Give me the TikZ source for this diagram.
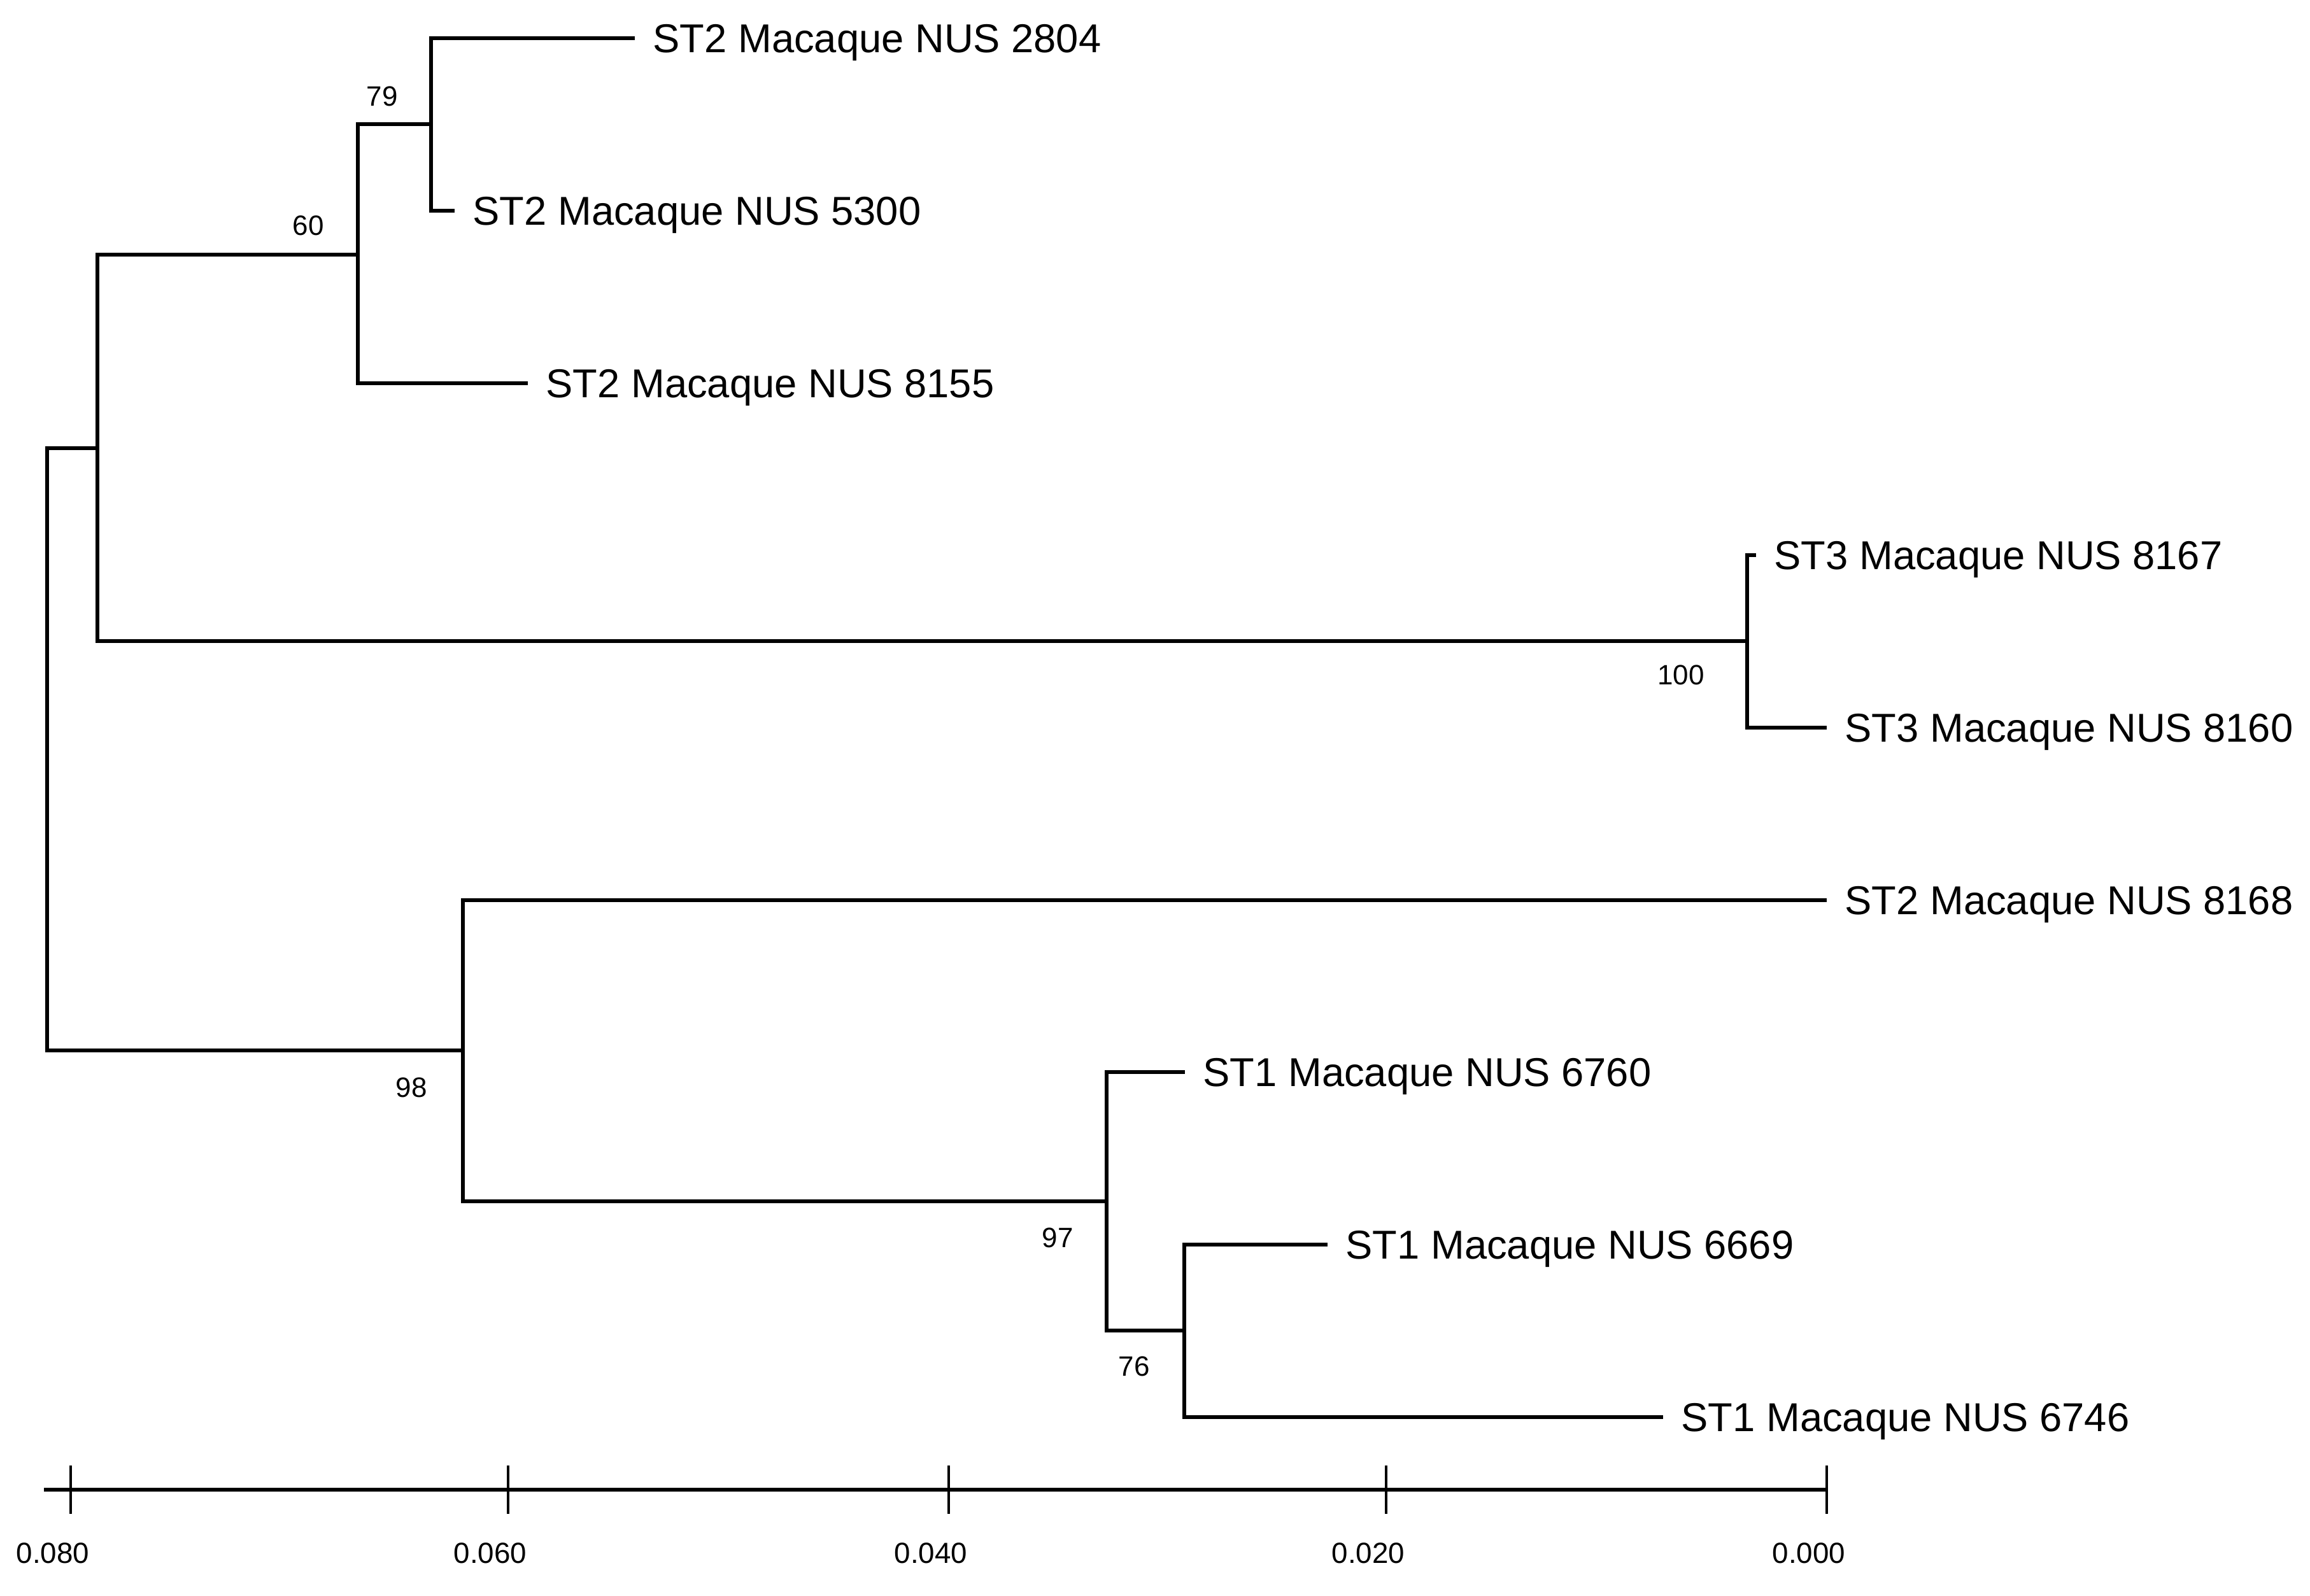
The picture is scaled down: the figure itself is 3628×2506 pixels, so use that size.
\documentclass[tikz,border=0pt]{standalone}
\usepackage{fontspec}
\setmainfont{Liberation Sans}
\begin{document}
\begin{tikzpicture}[x=0.01cm,y=-0.01cm,
    ramo/.style={line width=1.5pt},
    foglia/.style={anchor=base west,inner sep=0pt,xshift=0.28cm,yshift=-0.22cm,font=\fontsize{18}{20}\selectfont},
    boot/.style={inner sep=0pt,font=\fontsize{12.5}{14}\selectfont},
    asse/.style={line width=1.9pt},
    tacca/.style={line width=1.1pt},
    valore/.style={inner sep=0pt,font=\fontsize{13}{15}\selectfont}]
  \useasboundingbox (0,0) rectangle (3628,2506);
  %nodi interni
  \coordinate (radice) at (74,1177);
  \coordinate (nA) at (153,704);
  \coordinate (n60) at (562,400);
  \coordinate (n79) at (677,195);
  \coordinate (nST3) at (2744,1007);
  \coordinate (nB) at (727,1650);
  \coordinate (n97) at (1738,1887);
  \coordinate (n76) at (1860,2090);
  %foglie
  \coordinate (e2804) at (997,60);
  \coordinate (e5300) at (714,331);
  \coordinate (e8155) at (829,602);
  \coordinate (e8167) at (2758,872);
  \coordinate (e8160) at (2869,1143);
  \coordinate (e8168) at (2869,1414);
  \coordinate (e6760) at (1861,1684);
  \coordinate (e6669) at (2085,1955);
  \coordinate (e6746) at (2612,2226);
  %rami
  \draw[ramo] (radice) |- (nA);
  \draw[ramo] (radice) |- (nB);
  \draw[ramo] (nA) |- (n60);
  \draw[ramo] (nA) |- (nST3);
  \draw[ramo] (n60) |- (n79);
  \draw[ramo] (n60) |- (e8155);
  \draw[ramo] (n79) |- (e2804);
  \draw[ramo] (n79) |- (e5300);
  \draw[ramo] (nST3) |- (e8167);
  \draw[ramo] (nST3) |- (e8160);
  \draw[ramo] (nB) |- (e8168);
  \draw[ramo] (nB) |- (n97);
  \draw[ramo] (n97) |- (e6760);
  \draw[ramo] (n97) |- (n76);
  \draw[ramo] (n76) |- (e6669);
  \draw[ramo] (n76) |- (e6746);
  %etichette
  \node[foglia] (l2804) at (e2804) {ST2 Macaque NUS 2804};
  \node[foglia] (l5300) at (e5300) {ST2 Macaque NUS 5300};
  \node[foglia] (l8155) at (e8155) {ST2 Macaque NUS 8155};
  \node[foglia] (l8167) at (e8167) {ST3 Macaque NUS 8167};
  \node[foglia] (l8160) at (e8160) {ST3 Macaque NUS 8160};
  \node[foglia] (l8168) at (e8168) {ST2 Macaque NUS 8168};
  \node[foglia] (l6760) at (e6760) {ST1 Macaque NUS 6760};
  \node[foglia] (l6669) at (e6669) {ST1 Macaque NUS 6669};
  \node[foglia] (l6746) at (e6746) {ST1 Macaque NUS 6746};
  %bootstrap
  \node[boot] (b79) at (600,151) {79};
  \node[boot] (b60) at (484,354) {60};
  \node[boot] (b100) at (2640,1060) {100};
  \node[boot] (b98) at (646,1708) {98};
  \node[boot] (b97) at (1661,1944) {97};
  \node[boot] (b76) at (1781,2146) {76};
  %scala
  \coordinate (asx) at (69,2340);
  \coordinate (adx) at (2869,2340);
  \draw[asse] (asx) -- (adx);
  \foreach \i/\xx/\lab in {0/111/0.080,1/798/0.060,2/1490/0.040,3/2177/0.020,4/2869/0.000}{
    \draw[tacca] (\xx,2302) -- (\xx,2378);
    \node[valore] (v\i) at (\xx-28,2440) {\lab};
  }
\end{tikzpicture}
\end{document}
